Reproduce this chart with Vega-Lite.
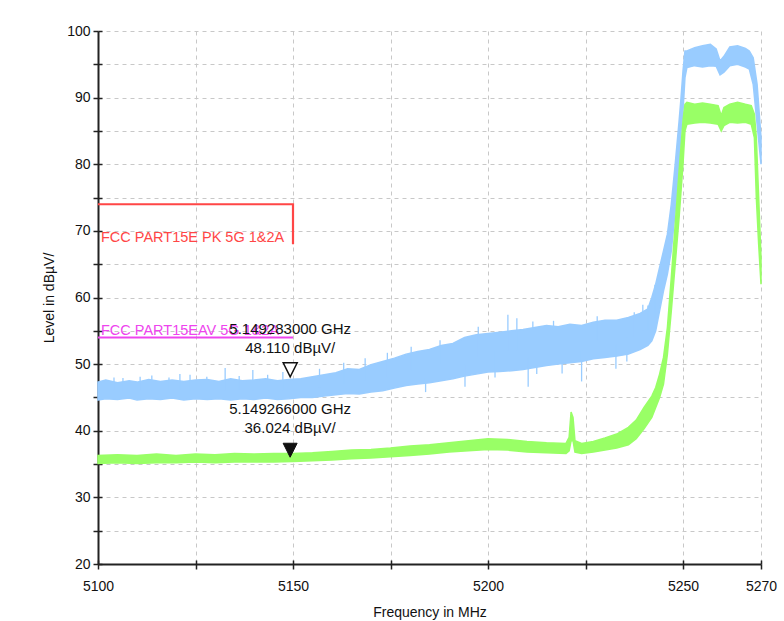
{
  "$schema": "https://vega.github.io/schema/vega-lite/v6.json",
  "width": 663,
  "height": 533,
  "autosize": {"type": "none"},
  "padding": {"left": 98, "top": 31, "right": 23, "bottom": 57},
  "background": "white",
  "config": {
    "view": {"stroke": null},
    "font": "Liberation Sans",
    "axis": {
      "labelFont": "Liberation Sans",
      "titleFont": "Liberation Sans",
      "labelFontSize": 14,
      "titleFontSize": 14,
      "titleFontWeight": "normal",
      "labelColor": "#111",
      "titleColor": "#111",
      "domainColor": "#222",
      "domainWidth": 2,
      "tickColor": "#222",
      "tickWidth": 1.5,
      "gridColor": "#c8c8c8",
      "gridDash": [4, 4],
      "gridWidth": 1
    }
  },
  "datasets": {
    "traces": [
      {"t": "Peak", "f": 5100, "lo": 44.6, "hi": 47.3},
      {"t": "Peak", "f": 5102, "lo": 44.8, "hi": 47.6},
      {"t": "Peak", "f": 5105, "lo": 44.7, "hi": 47.2},
      {"t": "Peak", "f": 5108, "lo": 44.9, "hi": 47.5},
      {"t": "Peak", "f": 5110, "lo": 44.6, "hi": 47.3},
      {"t": "Peak", "f": 5113, "lo": 44.8, "hi": 47.7},
      {"t": "Peak", "f": 5116, "lo": 44.7, "hi": 47.4},
      {"t": "Peak", "f": 5119, "lo": 44.9, "hi": 47.6},
      {"t": "Peak", "f": 5122, "lo": 44.6, "hi": 47.4},
      {"t": "Peak", "f": 5125, "lo": 44.8, "hi": 47.6},
      {"t": "Peak", "f": 5128, "lo": 44.7, "hi": 47.7},
      {"t": "Peak", "f": 5131, "lo": 44.8, "hi": 47.4},
      {"t": "Peak", "f": 5134, "lo": 44.6, "hi": 47.8},
      {"t": "Peak", "f": 5137, "lo": 44.8, "hi": 47.5},
      {"t": "Peak", "f": 5140, "lo": 44.7, "hi": 47.6},
      {"t": "Peak", "f": 5143, "lo": 44.9, "hi": 47.8},
      {"t": "Peak", "f": 5146, "lo": 44.7, "hi": 47.5},
      {"t": "Peak", "f": 5149, "lo": 44.8, "hi": 47.7},
      {"t": "Peak", "f": 5152, "lo": 45.0, "hi": 47.8},
      {"t": "Peak", "f": 5155, "lo": 45.0, "hi": 48.1},
      {"t": "Peak", "f": 5158, "lo": 45.2, "hi": 48.4},
      {"t": "Peak", "f": 5161, "lo": 45.4, "hi": 48.7},
      {"t": "Peak", "f": 5164, "lo": 45.6, "hi": 49.3},
      {"t": "Peak", "f": 5167, "lo": 45.5, "hi": 49.2},
      {"t": "Peak", "f": 5170, "lo": 45.8, "hi": 49.9},
      {"t": "Peak", "f": 5173, "lo": 46.0, "hi": 50.4},
      {"t": "Peak", "f": 5176, "lo": 46.4, "hi": 50.9},
      {"t": "Peak", "f": 5179, "lo": 46.8, "hi": 51.5},
      {"t": "Peak", "f": 5182, "lo": 47.0, "hi": 51.9},
      {"t": "Peak", "f": 5185, "lo": 47.2, "hi": 52.2},
      {"t": "Peak", "f": 5188, "lo": 47.5, "hi": 52.8},
      {"t": "Peak", "f": 5191, "lo": 47.8, "hi": 53.1},
      {"t": "Peak", "f": 5194, "lo": 48.2, "hi": 54.0},
      {"t": "Peak", "f": 5197, "lo": 48.5, "hi": 54.4},
      {"t": "Peak", "f": 5200, "lo": 48.8, "hi": 54.6},
      {"t": "Peak", "f": 5203, "lo": 48.9, "hi": 54.8},
      {"t": "Peak", "f": 5206, "lo": 49.0, "hi": 55.0},
      {"t": "Peak", "f": 5209, "lo": 49.2, "hi": 55.2},
      {"t": "Peak", "f": 5212, "lo": 49.5, "hi": 55.5},
      {"t": "Peak", "f": 5215, "lo": 49.8, "hi": 55.8},
      {"t": "Peak", "f": 5218, "lo": 50.0, "hi": 55.6},
      {"t": "Peak", "f": 5221, "lo": 50.2, "hi": 56.0},
      {"t": "Peak", "f": 5224, "lo": 50.4, "hi": 55.8},
      {"t": "Peak", "f": 5227, "lo": 50.8, "hi": 56.3},
      {"t": "Peak", "f": 5230, "lo": 51.0, "hi": 56.6},
      {"t": "Peak", "f": 5233, "lo": 51.2, "hi": 56.6},
      {"t": "Peak", "f": 5236, "lo": 51.5, "hi": 57.0},
      {"t": "Peak", "f": 5239, "lo": 52.2, "hi": 57.6},
      {"t": "Peak", "f": 5241, "lo": 52.8, "hi": 58.3},
      {"t": "Peak", "f": 5242, "lo": 53.5, "hi": 60.0},
      {"t": "Peak", "f": 5243, "lo": 55.0, "hi": 62.0},
      {"t": "Peak", "f": 5244, "lo": 58.0, "hi": 64.5},
      {"t": "Peak", "f": 5245, "lo": 61.0, "hi": 67.0},
      {"t": "Peak", "f": 5246, "lo": 63.5, "hi": 69.5},
      {"t": "Peak", "f": 5247, "lo": 67.0, "hi": 74.0},
      {"t": "Peak", "f": 5248, "lo": 73.0, "hi": 80.0},
      {"t": "Peak", "f": 5249, "lo": 80.0, "hi": 86.5},
      {"t": "Peak", "f": 5249.5, "lo": 85.0, "hi": 90.0},
      {"t": "Peak", "f": 5250, "lo": 88.0, "hi": 94.0},
      {"t": "Peak", "f": 5250.5, "lo": 93.0, "hi": 97.0},
      {"t": "Peak", "f": 5251, "lo": 94.5, "hi": 97.0},
      {"t": "Peak", "f": 5253, "lo": 94.8, "hi": 97.5},
      {"t": "Peak", "f": 5255, "lo": 94.6, "hi": 97.8},
      {"t": "Peak", "f": 5257, "lo": 94.8, "hi": 98.0},
      {"t": "Peak", "f": 5258.5, "lo": 94.7, "hi": 97.3},
      {"t": "Peak", "f": 5259.5, "lo": 93.4, "hi": 95.5},
      {"t": "Peak", "f": 5260.5, "lo": 93.8, "hi": 96.2},
      {"t": "Peak", "f": 5262, "lo": 94.8, "hi": 97.6},
      {"t": "Peak", "f": 5264, "lo": 95.0, "hi": 97.8},
      {"t": "Peak", "f": 5266, "lo": 94.6, "hi": 97.4},
      {"t": "Peak", "f": 5267, "lo": 94.3, "hi": 97.0},
      {"t": "Peak", "f": 5268, "lo": 92.0, "hi": 96.0},
      {"t": "Peak", "f": 5269, "lo": 86.0, "hi": 92.0},
      {"t": "Peak", "f": 5270, "lo": 80.0, "hi": 84.0},
      {"t": "Avg", "f": 5100, "lo": 35.1, "hi": 36.3},
      {"t": "Avg", "f": 5105, "lo": 35.2, "hi": 36.4},
      {"t": "Avg", "f": 5110, "lo": 35.1, "hi": 36.3},
      {"t": "Avg", "f": 5115, "lo": 35.2, "hi": 36.5},
      {"t": "Avg", "f": 5120, "lo": 35.2, "hi": 36.3},
      {"t": "Avg", "f": 5125, "lo": 35.3, "hi": 36.5},
      {"t": "Avg", "f": 5130, "lo": 35.2, "hi": 36.4},
      {"t": "Avg", "f": 5135, "lo": 35.3, "hi": 36.6},
      {"t": "Avg", "f": 5140, "lo": 35.3, "hi": 36.5},
      {"t": "Avg", "f": 5145, "lo": 35.3, "hi": 36.6},
      {"t": "Avg", "f": 5150, "lo": 35.4, "hi": 36.6},
      {"t": "Avg", "f": 5155, "lo": 35.5, "hi": 36.7},
      {"t": "Avg", "f": 5160, "lo": 35.6, "hi": 36.9},
      {"t": "Avg", "f": 5165, "lo": 35.8, "hi": 37.1},
      {"t": "Avg", "f": 5170, "lo": 35.9, "hi": 37.2},
      {"t": "Avg", "f": 5175, "lo": 36.1, "hi": 37.4},
      {"t": "Avg", "f": 5180, "lo": 36.3, "hi": 37.7},
      {"t": "Avg", "f": 5185, "lo": 36.5, "hi": 37.9},
      {"t": "Avg", "f": 5190, "lo": 36.8, "hi": 38.2},
      {"t": "Avg", "f": 5195, "lo": 37.0, "hi": 38.5},
      {"t": "Avg", "f": 5200, "lo": 37.2, "hi": 38.8},
      {"t": "Avg", "f": 5205, "lo": 37.1, "hi": 38.7},
      {"t": "Avg", "f": 5210, "lo": 36.8, "hi": 38.4},
      {"t": "Avg", "f": 5215, "lo": 36.7, "hi": 38.2},
      {"t": "Avg", "f": 5220, "lo": 36.6, "hi": 38.1},
      {"t": "Avg", "f": 5220.8, "lo": 37.0, "hi": 39.0},
      {"t": "Avg", "f": 5221.3, "lo": 38.5, "hi": 42.8},
      {"t": "Avg", "f": 5221.8, "lo": 38.5, "hi": 42.0},
      {"t": "Avg", "f": 5222.3, "lo": 36.8, "hi": 38.5},
      {"t": "Avg", "f": 5224, "lo": 36.6, "hi": 38.1},
      {"t": "Avg", "f": 5227, "lo": 36.8, "hi": 38.4},
      {"t": "Avg", "f": 5230, "lo": 37.1, "hi": 38.9},
      {"t": "Avg", "f": 5233, "lo": 37.4, "hi": 39.5},
      {"t": "Avg", "f": 5236, "lo": 37.9, "hi": 40.5},
      {"t": "Avg", "f": 5238, "lo": 38.8, "hi": 41.6},
      {"t": "Avg", "f": 5240, "lo": 40.3, "hi": 43.5},
      {"t": "Avg", "f": 5242, "lo": 42.0, "hi": 45.2},
      {"t": "Avg", "f": 5243, "lo": 43.5, "hi": 46.5},
      {"t": "Avg", "f": 5244, "lo": 45.0, "hi": 48.5},
      {"t": "Avg", "f": 5245, "lo": 47.0, "hi": 51.0},
      {"t": "Avg", "f": 5246, "lo": 51.5, "hi": 55.5},
      {"t": "Avg", "f": 5247, "lo": 58.0, "hi": 63.0},
      {"t": "Avg", "f": 5248, "lo": 65.0, "hi": 71.0},
      {"t": "Avg", "f": 5249, "lo": 72.0, "hi": 79.0},
      {"t": "Avg", "f": 5250, "lo": 80.0, "hi": 86.5},
      {"t": "Avg", "f": 5250.5, "lo": 85.0, "hi": 89.0},
      {"t": "Avg", "f": 5251, "lo": 86.0, "hi": 89.3},
      {"t": "Avg", "f": 5253, "lo": 86.2, "hi": 89.0},
      {"t": "Avg", "f": 5255, "lo": 86.3, "hi": 89.2},
      {"t": "Avg", "f": 5257, "lo": 86.2, "hi": 89.0},
      {"t": "Avg", "f": 5259, "lo": 86.0, "hi": 88.8},
      {"t": "Avg", "f": 5259.8, "lo": 85.0, "hi": 87.3},
      {"t": "Avg", "f": 5260.5, "lo": 85.8, "hi": 88.5},
      {"t": "Avg", "f": 5262, "lo": 86.3, "hi": 89.0},
      {"t": "Avg", "f": 5264, "lo": 86.2, "hi": 89.3},
      {"t": "Avg", "f": 5266, "lo": 86.3, "hi": 89.0},
      {"t": "Avg", "f": 5267.5, "lo": 86.0, "hi": 88.8},
      {"t": "Avg", "f": 5268.3, "lo": 84.0, "hi": 87.5},
      {"t": "Avg", "f": 5268.8, "lo": 75.0, "hi": 84.0},
      {"t": "Avg", "f": 5269.4, "lo": 68.0, "hi": 75.0},
      {"t": "Avg", "f": 5270, "lo": 62.0, "hi": 66.0}
    ],
    "spikes": [
      {"f": 5104.1, "a": 46.0, "b": 48.0},
      {"f": 5106.4, "a": 46.0, "b": 47.9},
      {"f": 5110.8, "a": 46.0, "b": 48.1},
      {"f": 5113.8, "a": 46.0, "b": 48.3},
      {"f": 5118.2, "a": 46.0, "b": 48.0},
      {"f": 5121.0, "a": 46.0, "b": 48.5},
      {"f": 5123.6, "a": 46.0, "b": 48.4},
      {"f": 5127.9, "a": 46.0, "b": 48.1},
      {"f": 5132.6, "a": 46.0, "b": 49.4},
      {"f": 5136.2, "a": 46.0, "b": 48.2},
      {"f": 5139.7, "a": 46.0, "b": 49.1},
      {"f": 5143.5, "a": 46.0, "b": 48.4},
      {"f": 5147.4, "a": 46.0, "b": 48.8},
      {"f": 5156.8, "a": 46.5, "b": 49.3},
      {"f": 5163.0, "a": 47.0, "b": 50.2},
      {"f": 5168.5, "a": 47.5, "b": 50.9},
      {"f": 5174.2, "a": 48.0, "b": 51.7},
      {"f": 5180.3, "a": 49.0, "b": 52.6},
      {"f": 5184.0, "a": 45.8, "b": 48.0},
      {"f": 5187.7, "a": 50.0, "b": 53.6},
      {"f": 5194.1, "a": 46.6, "b": 50.0},
      {"f": 5197.5, "a": 51.0, "b": 55.6},
      {"f": 5201.8, "a": 48.0, "b": 52.0},
      {"f": 5205.1, "a": 52.0, "b": 57.4},
      {"f": 5207.4, "a": 52.0, "b": 56.9},
      {"f": 5210.3, "a": 46.6, "b": 51.0},
      {"f": 5211.5, "a": 52.0, "b": 56.4},
      {"f": 5212.5, "a": 48.5, "b": 52.0},
      {"f": 5216.8, "a": 53.0, "b": 56.5},
      {"f": 5219.0, "a": 48.6, "b": 52.0},
      {"f": 5224.0, "a": 47.4, "b": 52.0},
      {"f": 5228.0, "a": 53.5, "b": 57.2},
      {"f": 5232.8, "a": 49.3, "b": 53.0},
      {"f": 5235.6, "a": 50.4, "b": 54.0},
      {"f": 5237.5, "a": 54.0, "b": 57.8},
      {"f": 5239.7, "a": 55.0, "b": 58.9},
      {"f": 5241.0, "a": 55.0, "b": 58.8},
      {"f": 5242.8, "a": 57.0, "b": 61.9}
    ],
    "limits": [
      {"lim": "PK", "i": 1, "f": 5100, "v": 74},
      {"lim": "PK", "i": 2, "f": 5150, "v": 74},
      {"lim": "PK", "i": 3, "f": 5150, "v": 68},
      {"lim": "AV", "i": 1, "f": 5100, "v": 54},
      {"lim": "AV", "i": 2, "f": 5150, "v": 54}
    ],
    "limitLabels": [
      {"lim": "PK", "f": 5100, "v": 68, "label": "FCC PART15E PK 5G 1&2A"},
      {"lim": "AV", "f": 5100, "v": 54, "label": "FCC PART15EAV 5G 1&2A"}
    ],
    "markers": [
      {"kind": "hollow", "f": 5149.283, "v": 48.11, "line1": "5.149283000 GHz", "line2": "48.110 dBµV/"},
      {"kind": "filled", "f": 5149.266, "v": 36.024, "line1": "5.149266000 GHz", "line2": "36.024 dBµV/"}
    ]
  },
  "resolve": {"axis": {"y": "independent", "x": "independent"}},
  "layer": [
    {
      "data": {"name": "traces"},
      "mark": {"type": "area", "orient": "vertical", "strokeWidth": 1.5},
      "encoding": {
        "x": {
          "field": "f", "type": "quantitative",
          "scale": {"domain": [5100, 5270], "nice": false, "zero": false},
          "axis": {
            "values": [5100, 5125, 5150, 5175, 5200, 5225, 5250, 5270],
            "format": "d",
            "labelExpr": "(datum.value % 50 === 0 || datum.value === 5270) ? datum.label : ''",
            "title": "Frequency in MHz",
            "grid": true,
            "tickSize": 5,
            "labelPadding": 10,
            "titlePadding": 12,
            "labelFlush": false,
            "labelOverlap": false
          }
        },
        "y": {
          "field": "lo", "type": "quantitative",
          "scale": {"domain": [20, 100], "nice": false, "zero": false},
          "axis": {
            "values": [20, 25, 30, 35, 40, 45, 50, 55, 60, 65, 70, 75, 80, 85, 90, 95, 100],
            "format": "d",
            "labelExpr": "datum.value % 10 === 0 ? datum.label : ''",
            "title": "Level in dBµV/",
            "grid": true,
            "tickSize": 5,
            "labelPadding": 3,
            "titlePadding": 10,
            "labelOverlap": false
          }
        },
        "y2": {"field": "hi"},
        "fill": {"field": "t", "type": "nominal", "scale": {"domain": ["Peak", "Avg"], "range": ["#99ccff", "#99ff66"]}, "legend": null},
        "stroke": {"field": "t", "type": "nominal", "scale": {"domain": ["Peak", "Avg"], "range": ["#99ccff", "#99ff66"]}, "legend": null}
      }
    },
    {
      "data": {"name": "spikes"},
      "mark": {"type": "rule", "color": "#99ccff", "strokeWidth": 1.3},
      "encoding": {
        "x": {"field": "f", "type": "quantitative", "axis": null},
        "y": {"field": "a", "type": "quantitative", "axis": null},
        "y2": {"field": "b"}
      }
    },
    {
      "data": {"name": "limits"},
      "mark": {"type": "line", "strokeWidth": 2.2},
      "encoding": {
        "x": {"field": "f", "type": "quantitative", "axis": {"values": [5100, 5125, 5150, 5175, 5200, 5225, 5250, 5270], "tickSize": -4, "labels": false, "domain": false, "grid": false, "title": null, "orient": "bottom", "tickColor": "#222", "tickWidth": 1.5}},
        "y": {"field": "v", "type": "quantitative", "axis": {"values": [20, 25, 30, 35, 40, 45, 50, 55, 60, 65, 70, 75, 80, 85, 90, 95, 100], "tickSize": -4, "labels": false, "domain": false, "grid": false, "title": null, "orient": "left", "tickColor": "#222", "tickWidth": 1.5}},
        "color": {"field": "lim", "type": "nominal", "scale": {"domain": ["PK", "AV"], "range": ["#ff4646", "#ee44ee"]}, "legend": null},
        "order": {"field": "i", "type": "quantitative"}
      }
    },
    {
      "data": {"name": "limitLabels"},
      "mark": {"type": "text", "align": "left", "baseline": "alphabetic", "dx": 3, "dy": -2, "fontSize": 14.5, "font": "Liberation Sans"},
      "encoding": {
        "x": {"field": "f", "type": "quantitative", "axis": null},
        "y": {"field": "v", "type": "quantitative", "axis": null},
        "text": {"field": "label"},
        "color": {"field": "lim", "type": "nominal", "scale": {"domain": ["PK", "AV"], "range": ["#ff4646", "#ee44ee"]}, "legend": null}
      }
    },
    {
      "data": {"name": "markers"},
      "mark": {"type": "text", "align": "center", "baseline": "middle", "dy": -48, "fontSize": 15, "font": "Liberation Sans", "color": "#111"},
      "encoding": {
        "x": {"field": "f", "type": "quantitative", "axis": null},
        "y": {"field": "v", "type": "quantitative", "axis": null},
        "text": {"field": "line1"}
      }
    },
    {
      "data": {"name": "markers"},
      "mark": {"type": "text", "align": "center", "baseline": "middle", "dy": -29, "fontSize": 15, "font": "Liberation Sans", "color": "#111"},
      "encoding": {
        "x": {"field": "f", "type": "quantitative", "axis": null},
        "y": {"field": "v", "type": "quantitative", "axis": null},
        "text": {"field": "line2"}
      }
    },
    {
      "data": {"name": "markers"},
      "transform": [{"filter": "datum.kind === 'hollow'"}],
      "mark": {"type": "point", "shape": "M-1,-2L1,-2L0,0Z", "size": 196, "filled": true, "fill": "white", "stroke": "#111", "strokeWidth": 1.5, "opacity": 1},
      "encoding": {
        "x": {"field": "f", "type": "quantitative", "axis": null},
        "y": {"field": "v", "type": "quantitative", "axis": null}
      }
    },
    {
      "data": {"name": "markers"},
      "transform": [{"filter": "datum.kind === 'filled'"}],
      "mark": {"type": "point", "shape": "M-1,-2L1,-2L0,0Z", "size": 196, "filled": true, "fill": "#111", "stroke": "#111", "strokeWidth": 1, "opacity": 1},
      "encoding": {
        "x": {"field": "f", "type": "quantitative", "axis": null},
        "y": {"field": "v", "type": "quantitative", "axis": null}
      }
    }
  ]
}
